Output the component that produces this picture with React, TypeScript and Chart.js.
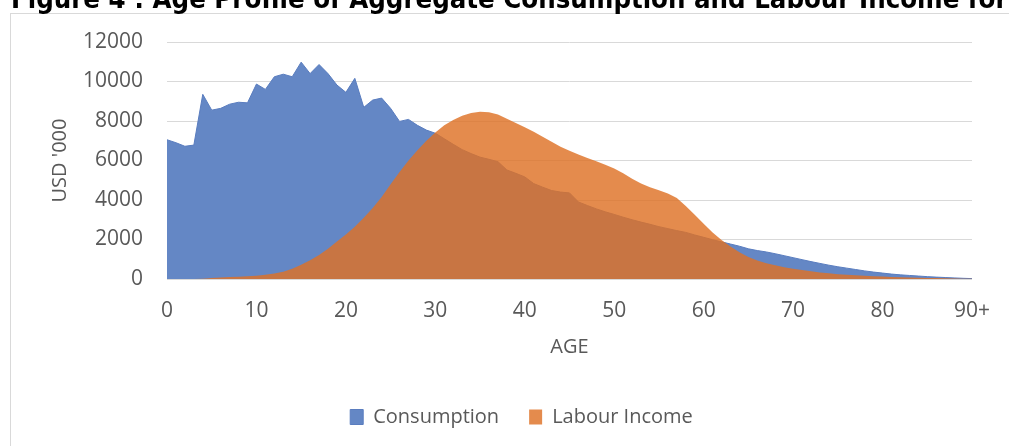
import React, { useEffect, useRef } from "react";
import { Chart, registerables } from "chart.js";

Chart.register(...registerables);

const titleText = "Figure 4 : Age Profile of Aggregate Consumption and Labour Income for";

const ageLabels = [
  "0", "1", "2", "3", "4", "5", "6", "7", "8", "9",
  "10", "11", "12", "13", "14", "15", "16", "17", "18", "19",
  "20", "21", "22", "23", "24", "25", "26", "27", "28", "29",
  "30", "31", "32", "33", "34", "35", "36", "37", "38", "39",
  "40", "41", "42", "43", "44", "45", "46", "47", "48", "49",
  "50", "51", "52", "53", "54", "55", "56", "57", "58", "59",
  "60", "61", "62", "63", "64", "65", "66", "67", "68", "69",
  "70", "71", "72", "73", "74", "75", "76", "77", "78", "79",
  "80", "81", "82", "83", "84", "85", "86", "87", "88", "89",
  "90+",
];

const consumption = [
  7050, 6900, 6720, 6780, 9350, 8550, 8640, 8850, 8950, 8920,
  9870, 9600, 10240, 10370, 10240, 10980, 10400, 10860, 10400, 9820,
  9450, 10160, 8690, 9060, 9160, 8640, 7980, 8080, 7780, 7540,
  7380, 7100, 6820, 6550, 6350, 6170, 6060, 5940, 5520, 5350,
  5170, 4830, 4650, 4480, 4400, 4360, 3900, 3720, 3550, 3400,
  3270, 3130, 3000, 2880, 2770, 2650, 2550, 2450, 2360, 2230,
  2110, 1990, 1880, 1770, 1660, 1530, 1440, 1370, 1280, 1180,
  1080, 980, 880, 790, 700, 620, 550, 480, 410, 350,
  300, 250, 210, 180, 150, 120, 95, 75, 55, 35,
  20,
];

const labourIncome = [
  0, 0, 0, 5, 15, 50, 80, 100, 120, 140,
  170, 210, 280, 370, 520, 720, 950, 1220, 1530, 1900,
  2250, 2650, 3100, 3600, 4150, 4800, 5420, 6000, 6520, 7000,
  7420, 7780, 8050, 8270, 8410, 8470, 8440, 8330, 8120, 7900,
  7680, 7450, 7200, 6950, 6700, 6500, 6300, 6130, 5960, 5790,
  5600, 5350, 5080, 4830, 4650, 4500, 4330, 4100, 3700, 3250,
  2800, 2350, 1980, 1650, 1350, 1120, 940, 800, 690, 600,
  520, 450, 390, 335, 285, 245, 215, 185, 160, 140,
  122, 105, 92, 80, 68, 56, 45, 35, 25, 15,
  8,
];

const yMin = 0;
const yMax = 12000;
const yStep = 2000;

const FONT = "'Open Sans', 'Liberation Sans', sans-serif";
const GREY_TEXT = "#595959";
const GRID = "#D9D9D9";

export default function App() {
  const canvasRef = useRef<HTMLCanvasElement>(null);

  useEffect(() => {
    const canvas = canvasRef.current;
    if (!canvas) return;
    const chart = new Chart(canvas, {
      type: "line",
      data: {
        labels: ageLabels,
        datasets: [
          {
            label: "Labour Income",
            data: labourIncome,
            backgroundColor: "rgba(222,114,38,0.82)",
            borderColor: "rgba(222,114,38,0.82)",
            borderWidth: 0,
            fill: "origin",
            pointRadius: 0,
            tension: 0,
          },
          {
            label: "Consumption",
            data: consumption,
            backgroundColor: "#6487C5",
            borderColor: "#5A7DBF",
            borderWidth: 1,
            fill: "origin",
            pointRadius: 0,
            tension: 0,
          },
        ],
      },
      options: {
        animation: false,
        responsive: false,
        maintainAspectRatio: false,
        layout: { padding: { left: 70, right: 36, top: 42, bottom: 9 } },
        plugins: {
          legend: {
            position: "bottom",
            reverse: true,
            labels: {
              boxWidth: 13,
              boxHeight: 15,
              padding: 30,
              color: GREY_TEXT,
              font: { family: FONT, size: 20 },
            },
          },
          tooltip: { enabled: false },
        },
        scales: {
          x: {
            type: "category",
            offset: false,
            grid: { display: false, drawTicks: false },
            border: { display: true, color: GRID, width: 1 },
            ticks: {
              autoSkip: false,
              maxRotation: 0,
              minRotation: 0,
              padding: 19,
              color: GREY_TEXT,
              font: { family: FONT, size: 21 },
              callback: (_v: any, i: number) => (i % 10 === 0 ? ageLabels[i] : ""),
            },
            title: {
              display: true,
              text: "AGE",
              color: GREY_TEXT,
              font: { family: FONT, size: 20 },
              padding: { top: 4, bottom: 18 },
            },
            afterFit: (s: any) => {
              s.height = 98;
            },
          },
          y: {
            min: yMin,
            max: yMax,
            ticks: {
              stepSize: yStep,
              padding: 24,
              color: GREY_TEXT,
              font: { family: FONT, size: 21 },
              callback: (v: any) => String(v),
            },
            grid: { color: GRID, lineWidth: 1, drawTicks: false },
            border: { display: false },
            title: {
              display: true,
              text: "USD '000",
              color: GREY_TEXT,
              font: { family: FONT, size: 20 },
              padding: { top: -22, bottom: 4 },
            },
            afterFit: (s: any) => {
              s.width = 97;
            },
          },
        },
      },
    });
    return () => chart.destroy();
  }, []);

  return (
    <div
      style={{
        position: "absolute",
        left: 0,
        top: 0,
        width: 1009,
        height: 446,
        overflow: "hidden",
        background: "#ffffff",
      }}
    >
      <div
        style={{
          position: "absolute",
          left: 10,
          top: 13,
          width: 1100,
          height: 600,
          border: "1px solid #D9D9D9",
          boxSizing: "border-box",
        }}
      />
      <canvas
        ref={canvasRef}
        width={1009}
        height={446}
        style={{ position: "absolute", left: 0, top: 0, width: 1009, height: 446 }}
      />
      <div
        style={{
          position: "absolute",
          left: 11,
          top: -15,
          whiteSpace: "nowrap",
          fontFamily: "'DejaVu Sans Condensed', 'DejaVu Sans', sans-serif",
          fontStretch: "condensed",
          fontWeight: "bold",
          fontSize: 27.3,
          lineHeight: "27px",
          color: "#000000",
        }}
      >
        {titleText}
      </div>
    </div>
  );
}
